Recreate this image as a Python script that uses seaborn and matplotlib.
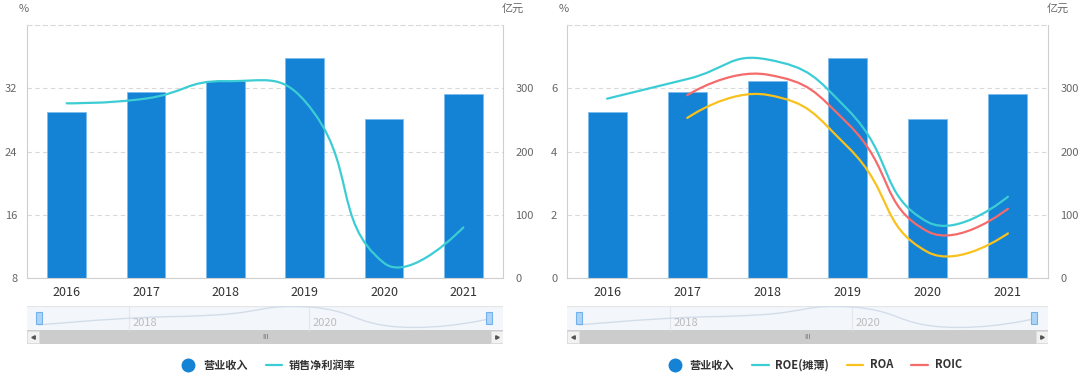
import numpy as np
import seaborn as sns
import matplotlib.pyplot as plt
import matplotlib.transforms as mtransforms
from matplotlib.path import Path
from matplotlib.patches import PathPatch, Rectangle
from matplotlib.lines import Line2D

# data
years = ['2016', '2017', '2018', '2019', '2020', '2021']
revenue = [262, 294, 311, 348, 252, 291]            # 营业收入, 亿元
net_margin = [30.1, 30.7, 32.9, 30.4, 9.9, 14.4]     # 销售净利润率, %
roe = [5.67, 6.29, 6.91, 5.33, 1.77, 2.57]           # ROE(摊薄), %
roa = [None, 5.06, 5.79, 4.15, 0.82, 1.41]           # ROA, %
roic = [None, 5.78, 6.43, 4.89, 1.47, 2.19]          # ROIC, %
slider_ticks = [1, 3]
slider_labels = ['2018', '2020']

BLUE = '#1482d5'
CYAN = '#3ccdd4'
GOLD = '#f9c11c'
RED = '#f56b6b'
GRID = '#d9d9d9'

sns.set_style('white')
plt.rcParams['font.family'] = ['Noto Sans CJK SC', 'DejaVu Sans']

W, H = 1080, 378
fig = plt.figure(figsize=(W / 100, H / 100), dpi=100)


def px_box(x0, x1, ytop, ybot):
    return [x0 / W, (H - ybot) / H, (x1 - x0) / W, (ybot - ytop) / H]


def smooth_line(ax, xs, ys, color, smooth=0.5, lw=1.6):
    # echarts-like smooth bezier, control points computed in screen space
    pts = ax.transData.transform(np.column_stack([xs, ys]))
    n = len(pts)
    cps = []
    for i in range(n):
        p = pts[i]
        if i == 0 or i == n - 1:
            cps.append((p, p))
            continue
        v = (pts[i + 1] - pts[i - 1]) * smooth
        d0 = np.hypot(*(p - pts[i - 1]))
        d1 = np.hypot(*(p - pts[i + 1]))
        s = d0 + d1
        cps.append((p - v * d0 / s, p + v * d1 / s))
    verts = [pts[0]]
    codes = [Path.MOVETO]
    for i in range(n - 1):
        verts += [cps[i][1], cps[i + 1][0], pts[i + 1]]
        codes += [Path.CURVE4] * 3
    verts = ax.transData.inverted().transform(np.array(verts))
    ax.add_patch(PathPatch(Path(verts, codes), fill=False, edgecolor=color,
                           lw=lw, capstyle='round', zorder=3))


def panel(x0, x1, ylim, yticks, series, legend_cx):
    ax = fig.add_axes(px_box(x0, x1, 25, 278))
    sns.barplot(x=years, y=revenue, ax=ax, color=BLUE, saturation=1,
                width=0.485, edgecolor='#7cbcee', linewidth=0.6, zorder=2)
    ax.set_xlim(-0.5, 5.5)
    ax.set_ylim(0, 400)
    ax.set_yticks([0, 100, 200, 300])
    ax.grid(axis='y', color=GRID, ls=(0, (4, 3)), lw=0.8, zorder=0)
    ax.set_axisbelow(True)
    ax.set_xlabel('')
    ax.set_ylabel('')
    for side in ['left', 'right', 'bottom']:
        ax.spines[side].set_color('#cfcfcf')
        ax.spines[side].set_linewidth(0.8)
    ax.spines['top'].set_color(GRID)
    ax.spines['top'].set_linestyle((0, (4, 3)))
    ax.spines['top'].set_linewidth(0.8)

    # % axis for the lines, its ticks on the left
    axl = ax.twinx()
    ax.yaxis.tick_right()
    axl.yaxis.tick_left()
    axl.set_ylim(*ylim)
    axl.set_yticks(yticks)
    for side in axl.spines:
        axl.spines[side].set_visible(False)
    ax.tick_params(axis='y', length=0, pad=9, labelsize=8, labelcolor='#666666')
    ax.tick_params(axis='x', length=0, pad=6, labelsize=9, labelcolor='#333333')
    axl.tick_params(axis='y', length=0, pad=7, labelsize=8, labelcolor='#666666')

    handles = [Line2D([], [], marker='o', ls='', color=BLUE, markersize=9)]
    labels = ['营业收入']
    for name, vals, color in series:
        idx = [i for i, v in enumerate(vals) if v is not None]
        smooth_line(axl, idx, [vals[i] for i in idx], color)
        handles.append(Line2D([], [], color=color, lw=1.6))
        labels.append(name)

    fig.text((x0 - 3) / W, 1 - 9 / H, '%', ha='center', va='center',
             fontsize=8, color='#666666')
    fig.text((x1 + 10) / W, 1 - 9 / H, '亿元', ha='center', va='center',
             fontsize=8, color='#666666')

    # data zoom slider under the chart
    axs = fig.add_axes(px_box(x0, x1, 306, 344))
    pw = x1 - x0
    ppu = (pw - 12 - 14) / 5
    axs.set_xlim(-12 / ppu, 5 + 14 / ppu)
    axs.set_ylim(170, 353)
    axs.axis('off')
    tr = mtransforms.blended_transform_factory(axs.transData, axs.transAxes)
    split = 14 / 38
    axs.add_patch(Rectangle((0, split), 1, 1 - split, transform=axs.transAxes,
                            facecolor='#f3f7fc', edgecolor='none', zorder=0))
    axs.plot([0, 1], [1, 1], transform=axs.transAxes, color='#e6e6e6', lw=1)
    smooth_line(axs, range(len(revenue)), revenue, '#d3dde9', lw=1.0)
    for t, lab in zip(slider_ticks, slider_labels):
        axs.plot([t, t], [split, 1], transform=tr, color='#e3e6ea', lw=0.8)
        axs.text(t + 4 / ppu, 0.55, lab, transform=tr, fontsize=8,
                 color='#bbbbbb', va='center', ha='left')
    axs.add_patch(Rectangle((0, 0), 1, split, transform=axs.transAxes,
                            facecolor='#cccccc', edgecolor='none', zorder=1))
    bw = 12 / pw
    for bx, mk in [(0, '<'), (1 - bw, '>')]:
        axs.add_patch(Rectangle((bx, 0.02), bw, split - 0.04, transform=axs.transAxes,
                                facecolor='#f2f2f2', edgecolor='#dddddd', lw=0.6,
                                zorder=2))
        axs.plot(bx + bw / 2, split / 2, marker=mk, color='#555555', markersize=2.5,
                 transform=axs.transAxes, zorder=3)
    axs.text(0.5, split / 2, 'III', transform=axs.transAxes, fontsize=5,
             color='#666666', ha='center', va='center', zorder=3)
    hw = 6 / ppu
    for hx in [0, 5]:
        axs.add_patch(Rectangle((hx - hw / 2, 0.53), hw, 0.31, transform=tr,
                                facecolor='#aed3f5', edgecolor='#72b2ec', lw=0.8,
                                zorder=4))

    fig.legend(handles, labels, loc='center', bbox_to_anchor=(legend_cx / W, 1 - 365 / H),
               ncol=len(labels), frameon=False, handlelength=1.5, handletextpad=0.6,
               columnspacing=1.6, prop={'size': 8, 'weight': 'bold'},
               labelcolor='#333333')


panel(27, 503, (8, 40), [8, 16, 24, 32],
      [('销售净利润率', net_margin, CYAN)], 268)
panel(567, 1048, (0, 8), [0, 2, 4, 6],
      [('ROE(摊薄)', roe, CYAN), ('ROA', roa, GOLD), ('ROIC', roic, RED)], 814)

fig.savefig('out.png', dpi=100)
